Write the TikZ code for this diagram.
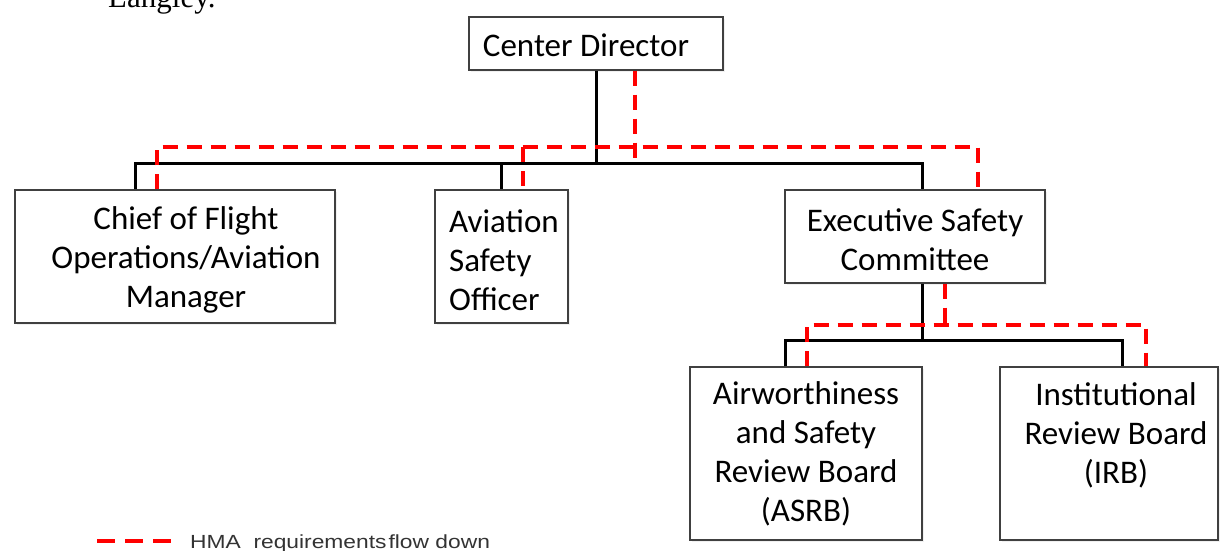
\documentclass[tikz,border=0pt]{standalone}
\usepackage{fontspec}
\setmainfont{Carlito}
\newfontfamily\legendfont[FakeStretch=1.2]{Liberation Sans}
\newfontfamily\bodyserif{Liberation Serif}
\usetikzlibrary{shadows}

\begin{document}
\begin{tikzpicture}[x=1pt,y=-1pt,
  orgbox/.style={draw=black!75, line width=1.3pt, fill=white, inner sep=0pt,
    drop shadow={shadow xshift=1.5pt, shadow yshift=-2pt, opacity=0.12}},
  boxtext/.style={inner sep=0pt, font=\fontsize{33}{39}\selectfont},
  tie/.style={draw=black, line width=3pt},
  flow/.style={draw=red, line width=3.2pt, dash pattern=on 15pt off 9pt},
  flowkey/.style={draw=red, line width=3.5pt, dash pattern=on 18pt off 10pt}
]
\useasboundingbox (0,0) rectangle (1221,550);

% running text above the chart
\node[anchor=base west, inner sep=0pt, font=\bodyserif\fontsize{31}{36}\selectfont]
  (txt) at (108,7) {Langley.};

% bus coordinates of the upper level
\coordinate (b1) at (135,163);
\coordinate (b2) at (501,163);
\coordinate (b3) at (596,163);
\coordinate (b4) at (922,163);
\coordinate (r1) at (157,147);
\coordinate (r2) at (523,147);
\coordinate (r3) at (635,147);
\coordinate (r4) at (978,147);
% bus coordinates of the lower level
\coordinate (c1) at (785,340);
\coordinate (c2) at (922,340);
\coordinate (c3) at (1122,340);
\coordinate (d1) at (807,325);
\coordinate (d2) at (945,325);
\coordinate (d3) at (1146,325);

% boxes
\node[orgbox, minimum width=254pt, minimum height=53pt]  (cd)    at (596,43.5)  {};
\node[orgbox, minimum width=320pt, minimum height=133pt] (chief) at (175,256.5) {};
\node[orgbox, minimum width=133pt, minimum height=133pt] (aso)   at (501.5,256.5) {};
\node[orgbox, minimum width=260pt, minimum height=93pt]  (esc)   at (915,236.5) {};
\node[orgbox, minimum width=232pt, minimum height=173pt] (asrb)  at (806,453.5) {};
\node[orgbox, minimum width=218pt, minimum height=173pt] (irb)   at (1109,453.5) {};

% box labels
\node[boxtext] (cdt) at (586,45) {Center Director};
\node[boxtext, align=center] (chieft) at (186,260) {Chief of Flight\\Operations/Aviation\\Manager};
\node[boxtext, align=left, anchor=west] (asot) at (449,260) {Aviation\\Safety\\Officer};
\node[boxtext, align=center] (esct) at (915,240) {Executive Safety\\Committee};
\node[boxtext, align=center] (asrbt) at (806,454) {Airworthiness\\and Safety\\Review Board\\(ASRB)};
\node[boxtext, align=center] (irbt) at (1116,435) {Institutional\\Review Board\\(IRB)};

% reporting lines
\draw[tie] (cd.south) -- (b3);
\draw[tie] (b1 |- chief.north) -- (b1) -- (b4) -- (b4 |- esc.north);
\draw[tie] (b2) -- (b2 |- aso.north);
\draw[tie] (c2 |- esc.south) -- (c2);
\draw[tie] (c1 |- asrb.north) -- (c1) -- (c3) -- (c3 |- irb.north);

% requirement flow-down
\draw[flow] (r3 |- cd.south) -- (r3 |- b3);
\draw[flow] (r1 |- chief.north) -- (r1) -- (r4) -- (r4 |- esc.north);
\draw[flow] (r2) -- (r2 |- aso.north);
\draw[flow] (d2 |- esc.south) -- (d2);
\draw[flow] (d1 |- asrb.north) -- (d1) -- (d3) -- (d3 |- irb.north);

% legend
\coordinate (k1) at (97,541);
\coordinate (k2) at (172,541);
\draw[flowkey] (k1) -- (k2);
\node[anchor=base west, inner sep=0pt, text=black!80, font=\legendfont\fontsize{19}{23}\selectfont]
  (keyt) at (190,548) {HMA\ \ requirements\hspace{2pt}flow down};
\end{tikzpicture}
\end{document}
